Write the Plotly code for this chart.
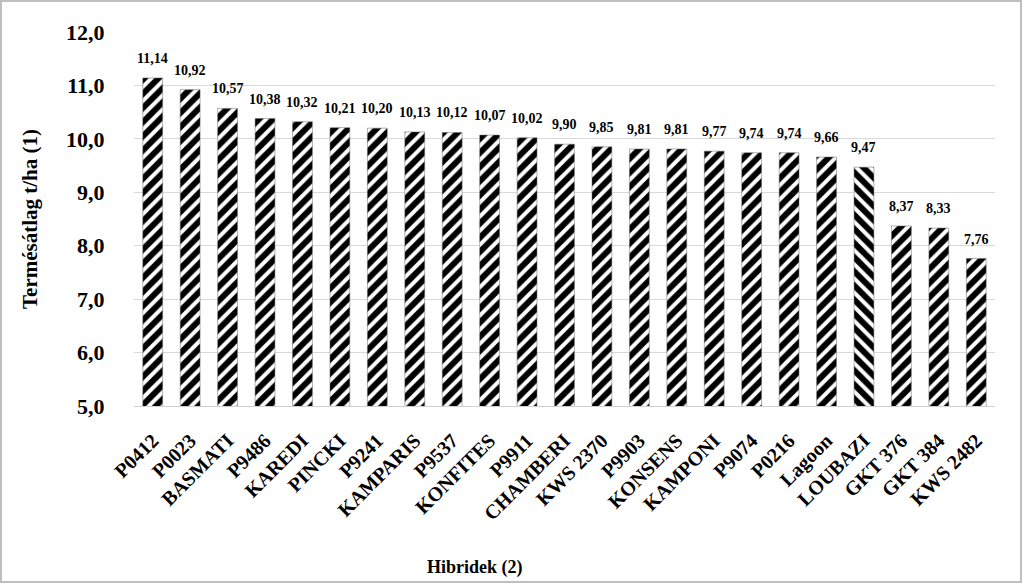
import plotly.graph_objects as go

# hibridek és termésátlagok (t/ha)
hibridek = ["P0412", "P0023", "BASMATI", "P9486", "KAREDI", "PINCKI", "P9241",
            "KAMPARIS", "P9537", "KONFITES", "P9911", "CHAMBERI", "KWS 2370",
            "P9903", "KONSENS", "KAMPONI", "P9074", "P0216", "Lagoon", "LOUBAZI",
            "GKT 376", "GKT 384", "KWS 2482"]
termes = [11.14, 10.92, 10.57, 10.38, 10.32, 10.21, 10.20, 10.13, 10.12, 10.07,
          10.02, 9.90, 9.85, 9.81, 9.81, 9.77, 9.74, 9.74, 9.66, 9.47,
          8.37, 8.33, 7.76]
y_tickek = [5, 6, 7, 8, 9, 10, 11, 12]

W, H = 1023, 584
ML, MR, MT, MB = 134, 28, 32, 178
FONT = "Liberation Serif, Times New Roman, serif"

# LOUBAZI oszlopa fordított csíkozású
minta = ["\\" if h == "LOUBAZI" else "/" for h in hibridek]

bar = go.Bar(
    x=hibridek,
    y=termes,
    marker=dict(
        color="white",
        line=dict(color="#666666", width=0.5),
        pattern=dict(shape=minta, fgcolor="#000000", bgcolor="#ffffff",
                     fgopacity=1, fillmode="replace",
                     size=10, solidity=0.6),
    ),
    width=0.53,
    hoverinfo="x+y",
)

fig = go.Figure(data=[bar])

# értékcímkék az oszlopok fölött
cimkek = [dict(x=h, y=v, text="<b>" + f"{v:.2f}".replace(".", ",") + "</b>",
               showarrow=False, yanchor="bottom", yshift=10,
               font=dict(family=FONT, size=14, color="black"))
          for h, v in zip(hibridek, termes)]

cimkek.append(dict(
    text="<b>Hibridek (2)</b>",
    xref="paper", yref="paper",
    x=(475 - ML) / (W - ML - MR), y=-(567 - (H - MB)) / (H - MT - MB),
    xanchor="center", yanchor="middle",
    showarrow=False,
    font=dict(family=FONT, size=18, color="black"),
))

fig.update_layout(
    width=W, height=H,
    margin=dict(l=ML, r=MR, t=MT, b=MB),
    plot_bgcolor="white",
    paper_bgcolor="white",
    separators=", ",
    font=dict(family=FONT, color="black"),
    showlegend=False,
    bargap=0.47,
    xaxis=dict(
        tickangle=-45,
        tickfont=dict(family=FONT, size=20, weight="bold"),
        showline=True, linecolor="#d0d0d0", linewidth=1,
        ticks="outside", ticklen=14, tickcolor="rgba(0,0,0,0)",
    ),
    yaxis=dict(
        range=[5, 12],
        tickvals=y_tickek,
        tickformat=".1f",
        tickfont=dict(family=FONT, size=22, weight="bold"),
        gridcolor="#d9d9d9",
        zeroline=False,
        ticks="outside", ticklen=24, tickcolor="rgba(0,0,0,0)",
        title=dict(text="Termésátlag t/ha (1)", standoff=22,
                   font=dict(family=FONT, size=21, weight="bold")),
    ),
    annotations=cimkek,
    shapes=[dict(
        type="rect", xref="paper", yref="paper",
        x0=-(ML - 1) / (W - ML - MR), x1=1 + (MR - 2) / (W - ML - MR),
        y0=-(MB - 2) / (H - MT - MB), y1=1 + (MT - 1) / (H - MT - MB),
        line=dict(color="#bfbfbf", width=2),
    )],
)

fig.write_html("out.html", config={"displayModeBar": False},
               post_script="document.body.style.margin='0px';")
